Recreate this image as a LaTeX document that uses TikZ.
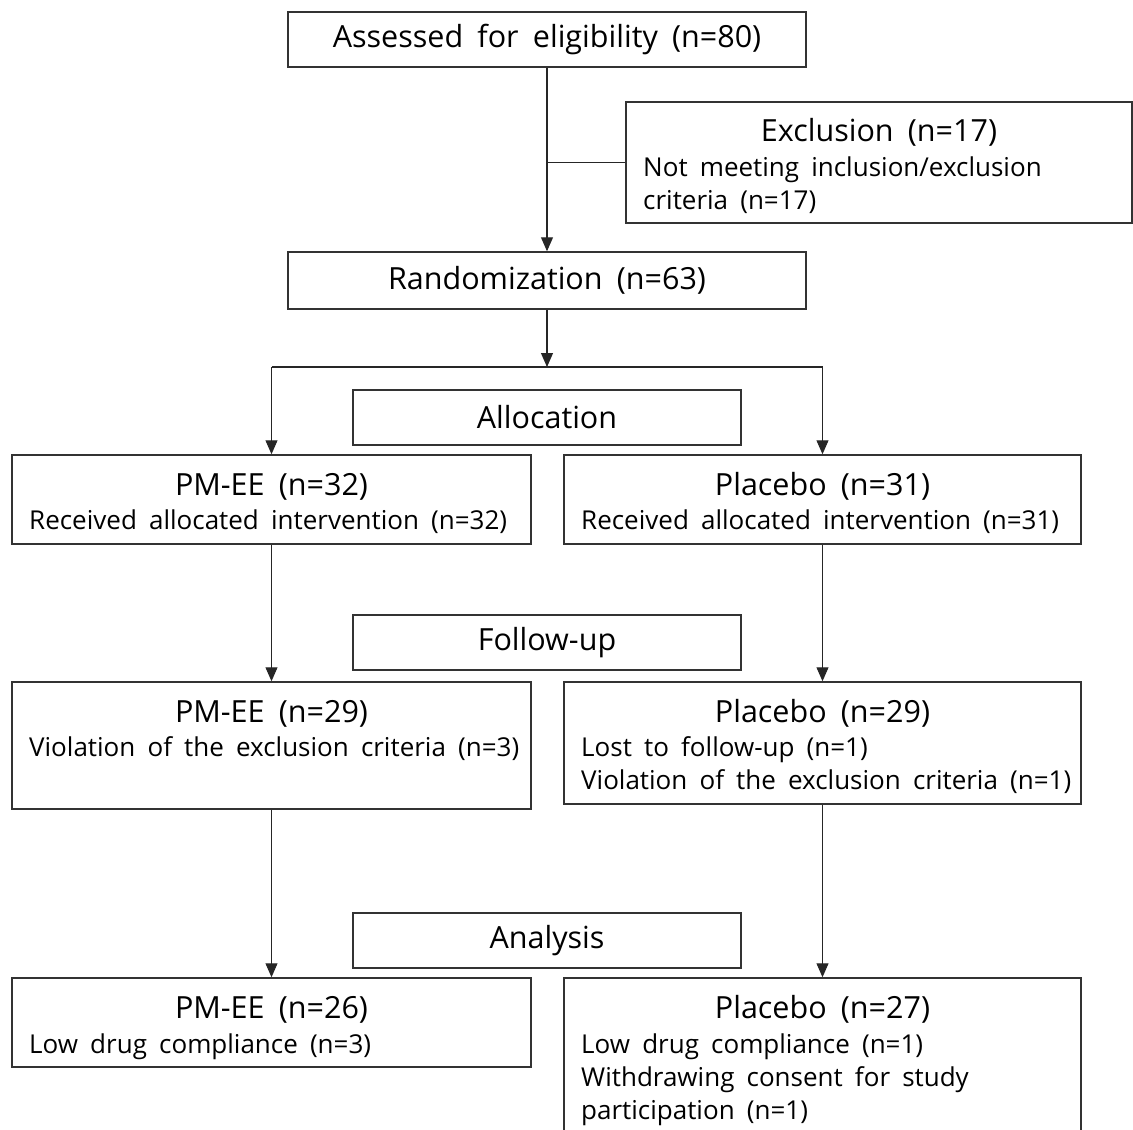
\documentclass[tikz,border=0pt]{standalone}
\usepackage{fontspec}
\setmainfont[WordSpace=1.8]{Open Sans}
\usetikzlibrary{arrows.meta}
\begin{document}
\begin{tikzpicture}[x=1pt,y=-1pt,
 box/.style={draw=black!80, line width=1.5pt, inner sep=0pt},
 big/.style={font=\fontsize{30.5}{36}\selectfont, inner sep=0pt},
 small/.style={font=\fontsize{26}{33}\selectfont, inner sep=0pt},
 conn/.style={draw=black!85, line width=1.1pt},
 arr/.style={conn, -{Triangle[length=14pt,width=12pt]}}]
\useasboundingbox (0,0) rectangle (1133,1130);
\clip (0,0) rectangle (1133,1130);

% boxes
\node[box, minimum width=518pt, minimum height=55pt, big] (assess) at (547,39.5) {Assessed for eligibility (n=80)};
\node[box, minimum width=506pt, minimum height=121pt] (excl) at (879,162.5) {};
\node[box, minimum width=518pt, minimum height=57pt, big] (rand) at (547,280.5) {Randomization (n=63)};
\node[box, minimum width=388pt, minimum height=55pt, big] (alloc) at (547,417.5) {Allocation};
\node[box, minimum width=519pt, minimum height=89pt] (pm1) at (271.5,499.5) {};
\node[box, minimum width=517pt, minimum height=89pt] (pl1) at (822.5,499.5) {};
\node[box, minimum width=388pt, minimum height=55pt, big] (follow) at (547,642.5) {Follow-up};
\node[box, minimum width=519pt, minimum height=127pt] (pm2) at (271.5,745.5) {};
\node[box, minimum width=517pt, minimum height=122pt] (pl2) at (822.5,743) {};
\node[box, minimum width=388pt, minimum height=55pt, big] (anal) at (547,940.5) {Analysis};
\node[box, minimum width=519pt, minimum height=89pt] (pm3) at (271.5,1022.5) {};
\node[box, minimum width=517pt, minimum height=167pt] (pl3) at (822.5,1061.5) {};

% texts
\node[big, anchor=base] (exT) at (879,141) {Exclusion (n=17)};
\node[small, anchor=base west] (exA) at (643,176) {Not meeting inclusion/exclusion};
\node[small, anchor=base west] (exB) at (643,209) {criteria (n=17)};

\node[big, anchor=base] (pm1T) at (271.5,495) {PM-EE (n=32)};
\node[small, anchor=base west] (pm1A) at (29,529) {Received allocated intervention (n=32)};
\node[big, anchor=base] (pl1T) at (822.5,495) {Placebo (n=31)};
\node[small, anchor=base west] (pl1A) at (581,529) {Received allocated intervention (n=31)};

\node[big, anchor=base] (pm2T) at (271.5,722) {PM-EE (n=29)};
\node[small, anchor=base west] (pm2A) at (29,756) {Violation of the exclusion criteria (n=3)};
\node[big, anchor=base] (pl2T) at (822.5,722) {Placebo (n=29)};
\node[small, anchor=base west] (pl2A) at (581,756) {Lost to follow-up (n=1)};
\node[small, anchor=base west] (pl2B) at (581,789) {Violation of the exclusion criteria (n=1)};

\node[big, anchor=base] (pm3T) at (271.5,1018) {PM-EE (n=26)};
\node[small, anchor=base west] (pm3A) at (29,1053) {Low drug compliance (n=3)};
\node[big, anchor=base] (pl3T) at (822.5,1018) {Placebo (n=27)};
\node[small, anchor=base west] (pl3A) at (581,1053) {Low drug compliance (n=1)};
\node[small, anchor=base west] (pl3B) at (581,1086) {Withdrawing consent for study};
\node[small, anchor=base west] (pl3C) at (581,1119) {participation (n=1)};

% connectors
\draw[arr] (assess) -- (rand);
\draw[conn] (excl.west) -- (excl.west -| assess.south);
\coordinate (split) at (547,367);
\draw[arr] (rand) -- (split);
\coordinate (sl) at (pm1.north |- split);
\coordinate (sr) at (pl1.north |- split);
\draw[conn] (sl) -- (sr);
\draw[arr] (sl) -- (pm1.north);
\draw[arr] (sr) -- (pl1.north);
\draw[arr] (pm1) -- (pm2);
\draw[arr] (pl1) -- (pl2);
\draw[arr] (pm2) -- (pm3);
\draw[arr] (pl2) -- (pl3);
\end{tikzpicture}
\end{document}
